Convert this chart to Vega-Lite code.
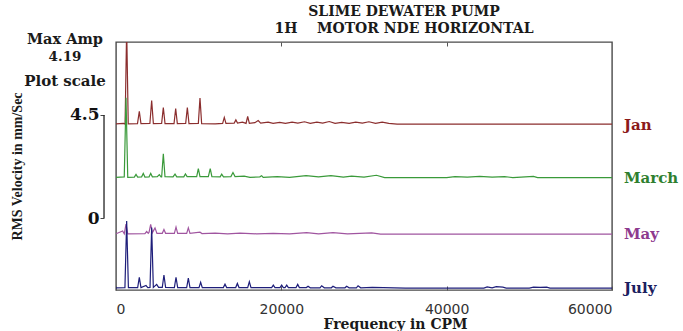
{
  "$schema": "https://vega.github.io/schema/vega-lite/v6.json",
  "width": 496,
  "height": 248,
  "autosize": {"type": "none"},
  "padding": {"left": 116, "top": 42, "right": 71, "bottom": 41},
  "background": "white",
  "config": {"view": {"stroke": "#4a4a4a", "strokeWidth": 1.4}},
  "title": {
    "text": "SLIME DEWATER PUMP",
    "subtitle": "1H\u00a0\u00a0\u00a0\u00a0MOTOR NDE HORIZONTAL",
    "font": "DejaVu Serif",
    "fontSize": 14,
    "fontWeight": "bold",
    "color": "#1a1a1a",
    "subtitleFont": "DejaVu Serif",
    "subtitleFontSize": 14,
    "subtitleFontWeight": "bold",
    "subtitleColor": "#1a1a1a",
    "subtitlePadding": 3,
    "anchor": "middle",
    "dx": 40,
    "offset": -4
  },
  "datasets": {
    "labels": [{"m": "Jan"}, {"m": "March"}, {"m": "May"}, {"m": "July"}],
    "spectra": [
      {"m":"Jan","f":0,"a":0.03},{"m":"Jan","f":900,"a":0.05},{"m":"Jan","f":1100,"a":0.02},{"m":"Jan","f":1290,"a":4.19},{"m":"Jan","f":1480,"a":0.03},
      {"m":"Jan","f":2600,"a":0.04},{"m":"Jan","f":2820,"a":0.57},{"m":"Jan","f":3020,"a":0.04},
      {"m":"Jan","f":4100,"a":0.05},{"m":"Jan","f":4315,"a":1.05},{"m":"Jan","f":4520,"a":0.04},
      {"m":"Jan","f":5520,"a":0.05},{"m":"Jan","f":5725,"a":0.74},{"m":"Jan","f":5930,"a":0.04},
      {"m":"Jan","f":7020,"a":0.04},{"m":"Jan","f":7220,"a":0.7},{"m":"Jan","f":7420,"a":0.04},
      {"m":"Jan","f":8430,"a":0.05},{"m":"Jan","f":8630,"a":0.74},{"m":"Jan","f":8830,"a":0.04},
      {"m":"Jan","f":9960,"a":0.05},{"m":"Jan","f":10160,"a":1.16},{"m":"Jan","f":10360,"a":0.04},
      {"m":"Jan","f":12000,"a":0.03},{"m":"Jan","f":12900,"a":0.05},{"m":"Jan","f":13100,"a":0.31},{"m":"Jan","f":13300,"a":0.05},
      {"m":"Jan","f":14300,"a":0.06},{"m":"Jan","f":14500,"a":0.2},{"m":"Jan","f":14700,"a":0.06},{"m":"Jan","f":15300,"a":0.1},
      {"m":"Jan","f":15730,"a":0.05},{"m":"Jan","f":15930,"a":0.35},{"m":"Jan","f":16130,"a":0.05},{"m":"Jan","f":16800,"a":0.08},
      {"m":"Jan","f":17200,"a":0.17},{"m":"Jan","f":17500,"a":0.06},{"m":"Jan","f":18400,"a":0.1},{"m":"Jan","f":19000,"a":0.05},
      {"m":"Jan","f":19800,"a":0.09},{"m":"Jan","f":20500,"a":0.05},{"m":"Jan","f":21300,"a":0.1},{"m":"Jan","f":22000,"a":0.06},
      {"m":"Jan","f":22800,"a":0.12},{"m":"Jan","f":23500,"a":0.05},{"m":"Jan","f":24300,"a":0.1},{"m":"Jan","f":25000,"a":0.06},
      {"m":"Jan","f":25800,"a":0.13},{"m":"Jan","f":26500,"a":0.05},{"m":"Jan","f":27300,"a":0.09},{"m":"Jan","f":28200,"a":0.05},
      {"m":"Jan","f":29000,"a":0.1},{"m":"Jan","f":29800,"a":0.06},{"m":"Jan","f":30600,"a":0.12},{"m":"Jan","f":31400,"a":0.05},
      {"m":"Jan","f":32200,"a":0.1},{"m":"Jan","f":33000,"a":0.05},{"m":"Jan","f":34000,"a":0.02},{"m":"Jan","f":40000,"a":0.02},
      {"m":"Jan","f":48000,"a":0.02},{"m":"Jan","f":60000,"a":0.02},

      {"m":"March","f":0,"a":0.03},{"m":"March","f":1000,"a":0.05},{"m":"March","f":1210,"a":3.5},{"m":"March","f":1420,"a":0.03},
      {"m":"March","f":2220,"a":0.04},{"m":"March","f":2420,"a":0.16},{"m":"March","f":2620,"a":0.04},
      {"m":"March","f":3100,"a":0.05},{"m":"March","f":3300,"a":0.2},{"m":"March","f":3500,"a":0.04},
      {"m":"March","f":4000,"a":0.05},{"m":"March","f":4200,"a":0.2},{"m":"March","f":4400,"a":0.05},
      {"m":"March","f":5000,"a":0.06},{"m":"March","f":5240,"a":0.15},{"m":"March","f":5450,"a":0.05},
      {"m":"March","f":5525,"a":0.05},{"m":"March","f":5725,"a":1.06},{"m":"March","f":5925,"a":0.06},
      {"m":"March","f":6900,"a":0.05},{"m":"March","f":7140,"a":0.17},{"m":"March","f":7350,"a":0.05},
      {"m":"March","f":8200,"a":0.05},{"m":"March","f":8400,"a":0.18},{"m":"March","f":8600,"a":0.06},
      {"m":"March","f":9760,"a":0.06},{"m":"March","f":9960,"a":0.41},{"m":"March","f":10160,"a":0.06},
      {"m":"March","f":11170,"a":0.06},{"m":"March","f":11400,"a":0.41},{"m":"March","f":11600,"a":0.06},
      {"m":"March","f":12600,"a":0.05},{"m":"March","f":12785,"a":0.17},{"m":"March","f":13000,"a":0.05},
      {"m":"March","f":13900,"a":0.06},{"m":"March","f":14150,"a":0.24},{"m":"March","f":14400,"a":0.06},
      {"m":"March","f":15500,"a":0.08},{"m":"March","f":16200,"a":0.03},{"m":"March","f":17400,"a":0.05},{"m":"March","f":17620,"a":0.1},
      {"m":"March","f":17800,"a":0.03},{"m":"March","f":19500,"a":0.06},{"m":"March","f":21000,"a":0.03},{"m":"March","f":23000,"a":0.1},
      {"m":"March","f":24500,"a":0.05},{"m":"March","f":26000,"a":0.1},{"m":"March","f":27500,"a":0.04},{"m":"March","f":28500,"a":0.08},
      {"m":"March","f":30000,"a":0.04},{"m":"March","f":31500,"a":0.12},{"m":"March","f":32500,"a":0.02},{"m":"March","f":40000,"a":0.02},
      {"m":"March","f":41000,"a":0.06},{"m":"March","f":42500,"a":0.04},{"m":"March","f":44000,"a":0.07},{"m":"March","f":45500,"a":0.04},
      {"m":"March","f":47000,"a":0.06},{"m":"March","f":48000,"a":0.02},{"m":"March","f":50500,"a":0.07},{"m":"March","f":51000,"a":0.02},
      {"m":"March","f":60000,"a":0.02},

      {"m":"May","f":0,"a":0.03},{"m":"May","f":800,"a":0.15},{"m":"May","f":1000,"a":0.03},{"m":"May","f":1210,"a":0.45},{"m":"May","f":1420,"a":0.03},
      {"m":"May","f":3500,"a":0.04},{"m":"May","f":3710,"a":0.13},{"m":"May","f":3900,"a":0.05},{"m":"May","f":4000,"a":0.1},
      {"m":"May","f":4195,"a":0.44},{"m":"May","f":4400,"a":0.08},{"m":"May","f":4720,"a":0.29},{"m":"May","f":4950,"a":0.05},
      {"m":"May","f":5600,"a":0.05},{"m":"May","f":5800,"a":0.22},{"m":"May","f":6000,"a":0.05},
      {"m":"May","f":7060,"a":0.05},{"m":"May","f":7260,"a":0.32},{"m":"May","f":7460,"a":0.05},
      {"m":"May","f":8550,"a":0.05},{"m":"May","f":8750,"a":0.29},{"m":"May","f":8950,"a":0.05},
      {"m":"May","f":10160,"a":0.1},{"m":"May","f":10400,"a":0.04},{"m":"May","f":12000,"a":0.06},{"m":"May","f":13500,"a":0.03},
      {"m":"May","f":15000,"a":0.06},{"m":"May","f":17000,"a":0.03},{"m":"May","f":19000,"a":0.05},{"m":"May","f":21000,"a":0.03},
      {"m":"May","f":23060,"a":0.08},{"m":"May","f":24500,"a":0.03},{"m":"May","f":26250,"a":0.08},{"m":"May","f":28000,"a":0.03},
      {"m":"May","f":30930,"a":0.07},{"m":"May","f":32000,"a":0.02},{"m":"May","f":60000,"a":0.02},

      {"m":"July","f":0,"a":0.03},{"m":"July","f":1080,"a":0.04},{"m":"July","f":1290,"a":2.95},{"m":"July","f":1500,"a":0.04},
      {"m":"July","f":2620,"a":0.04},{"m":"July","f":2820,"a":0.49},{"m":"July","f":3020,"a":0.04},
      {"m":"July","f":3630,"a":0.13},{"m":"July","f":3850,"a":0.04},{"m":"July","f":4115,"a":0.05},{"m":"July","f":4315,"a":2.66},{"m":"July","f":4515,"a":0.05},
      {"m":"July","f":4920,"a":0.18},{"m":"July","f":5150,"a":0.05},{"m":"July","f":5600,"a":0.05},{"m":"July","f":5800,"a":0.59},{"m":"July","f":6000,"a":0.05},
      {"m":"July","f":7060,"a":0.04},{"m":"July","f":7260,"a":0.49},{"m":"July","f":7460,"a":0.04},
      {"m":"July","f":8550,"a":0.04},{"m":"July","f":8750,"a":0.45},{"m":"July","f":8950,"a":0.04},
      {"m":"July","f":10040,"a":0.04},{"m":"July","f":10240,"a":0.27},{"m":"July","f":10440,"a":0.04},
      {"m":"July","f":12985,"a":0.04},{"m":"July","f":13185,"a":0.19},{"m":"July","f":13385,"a":0.04},
      {"m":"July","f":14480,"a":0.04},{"m":"July","f":14680,"a":0.22},{"m":"July","f":14880,"a":0.04},
      {"m":"July","f":15930,"a":0.04},{"m":"July","f":16130,"a":0.3},{"m":"July","f":16330,"a":0.04},
      {"m":"July","f":18830,"a":0.04},{"m":"July","f":19030,"a":0.15},{"m":"July","f":19230,"a":0.04},
      {"m":"July","f":19840,"a":0.04},{"m":"July","f":20040,"a":0.15},{"m":"July","f":20240,"a":0.04},
      {"m":"July","f":20450,"a":0.04},{"m":"July","f":20650,"a":0.15},{"m":"July","f":20850,"a":0.04},
      {"m":"July","f":21780,"a":0.04},{"m":"July","f":21980,"a":0.18},{"m":"July","f":22180,"a":0.04},
      {"m":"July","f":23030,"a":0.04},{"m":"July","f":23230,"a":0.1},{"m":"July","f":23500,"a":0.03},
      {"m":"July","f":24680,"a":0.03},{"m":"July","f":24880,"a":0.12},{"m":"July","f":25200,"a":0.03},
      {"m":"July","f":26050,"a":0.03},{"m":"July","f":26250,"a":0.1},{"m":"July","f":26600,"a":0.03},
      {"m":"July","f":27700,"a":0.03},{"m":"July","f":27900,"a":0.1},{"m":"July","f":28200,"a":0.03},
      {"m":"July","f":29080,"a":0.03},{"m":"July","f":29280,"a":0.12},{"m":"July","f":29600,"a":0.03},
      {"m":"July","f":31000,"a":0.05},{"m":"July","f":35000,"a":0.02},{"m":"July","f":44500,"a":0.02},{"m":"July","f":44900,"a":0.07},
      {"m":"July","f":45500,"a":0.03},{"m":"July","f":46000,"a":0.08},{"m":"July","f":46800,"a":0.06},{"m":"July","f":47200,"a":0.02},
      {"m":"July","f":50000,"a":0.02},{"m":"July","f":50500,"a":0.06},{"m":"July","f":51300,"a":0.05},{"m":"July","f":52100,"a":0.06},
      {"m":"July","f":52500,"a":0.02},{"m":"July","f":60000,"a":0.02}
    ]
  },
  "resolve": {"scale": {"y": "independent"}, "axis": {"x": "independent", "y": "independent"}},
  "layer": [
    {
      "data": {"name": "spectra"},
      "transform": [{"filter": "datum.m === 'Jan'"}],
      "mark": {"type": "line", "color": "#8b2e2e", "strokeWidth": 1.2, "clip": true},
      "encoding": {
        "x": {"field": "f", "type": "quantitative", "scale": {"domain": [0, 60000], "nice": false},
              "axis": {"orient": "top", "values": [20000, 40000], "labels": false, "tickSize": -4, "tickColor": "#555", "domain": false, "grid": false, "title": null}},
        "y": {"field": "a", "type": "quantitative", "scale": {"domain": [-7.227, 3.603], "nice": false, "zero": false}, "axis": null}
      }
    },
    {
      "data": {"name": "spectra"},
      "transform": [{"filter": "datum.m === 'March'"}],
      "mark": {"type": "line", "color": "#3a9a3a", "strokeWidth": 1.2, "clip": true},
      "encoding": {
        "x": {"field": "f", "type": "quantitative", "scale": {"domain": [0, 60000], "nice": false}, "axis": null},
        "y": {"field": "a", "type": "quantitative", "scale": {"domain": [-4.891, 5.939], "nice": false, "zero": false}, "axis": null}
      }
    },
    {
      "data": {"name": "spectra"},
      "transform": [{"filter": "datum.m === 'May'"}],
      "mark": {"type": "line", "color": "#a055a0", "strokeWidth": 1.2, "clip": true},
      "encoding": {
        "x": {"field": "f", "type": "quantitative", "scale": {"domain": [0, 60000], "nice": false}, "axis": null},
        "y": {"field": "a", "type": "quantitative", "scale": {"domain": [-2.424, 8.406], "nice": false, "zero": false}, "axis": null}
      }
    },
    {
      "data": {"name": "spectra"},
      "transform": [{"filter": "datum.m === 'July'"}],
      "mark": {"type": "line", "color": "#1e1e7a", "strokeWidth": 1.2, "clip": true},
      "encoding": {
        "x": {"field": "f", "type": "quantitative", "scale": {"domain": [0, 60000], "nice": false},
              "axis": {"orient": "bottom", "values": [0, 20000, 40000, 60000], "format": "d", "labelFont": "DejaVu Sans", "labelFontSize": 14, "labelColor": "#333",
                       "tickSize": -4, "tickColor": "#555", "labelPadding": 16, "domain": false, "grid": false,
                       "title": "Frequency in CPM", "titleFont": "DejaVu Serif", "titleFontSize": 14, "titleFontWeight": "bold", "titleColor": "#1a1a1a",
                       "titleX": 279, "titleY": 34, "titleBaseline": "middle"}},
        "y": {"field": "a", "type": "quantitative", "scale": {"domain": [-0.066, 10.764], "nice": false, "zero": false}, "axis": null}
      }
    },
    {
      "data": {"name": "labels"},
      "transform": [{"filter": "datum.m === 'Jan'"}],
      "mark": {"type": "text", "align": "left", "baseline": "middle", "font": "DejaVu Serif", "fontSize": 15, "fontWeight": "bold", "color": "#8b1a1a"},
      "encoding": {
        "x": {"datum": 61450, "type": "quantitative", "axis": null},
        "y": {"datum": 0, "type": "quantitative", "scale": {"domain": [-7.227, 3.603], "nice": false, "zero": false}, "axis": null},
        "text": {"field": "m"}
      }
    },
    {
      "data": {"name": "labels"},
      "transform": [{"filter": "datum.m === 'March'"}],
      "mark": {"type": "text", "align": "left", "baseline": "middle", "font": "DejaVu Serif", "fontSize": 15, "fontWeight": "bold", "color": "#2f7f2f"},
      "encoding": {
        "x": {"datum": 61450, "type": "quantitative", "axis": null},
        "y": {"datum": 0, "type": "quantitative", "scale": {"domain": [-4.891, 5.939], "nice": false, "zero": false}, "axis": null},
        "text": {"field": "m"}
      }
    },
    {
      "data": {"name": "labels"},
      "transform": [{"filter": "datum.m === 'May'"}],
      "mark": {"type": "text", "align": "left", "baseline": "middle", "font": "DejaVu Serif", "fontSize": 15, "fontWeight": "bold", "color": "#8e3a8e"},
      "encoding": {
        "x": {"datum": 61450, "type": "quantitative", "axis": null},
        "y": {"datum": 0, "type": "quantitative", "scale": {"domain": [-2.424, 8.406], "nice": false, "zero": false}, "axis": null},
        "text": {"field": "m"}
      }
    },
    {
      "data": {"name": "labels"},
      "transform": [{"filter": "datum.m === 'July'"}],
      "mark": {"type": "text", "align": "left", "baseline": "middle", "font": "DejaVu Serif", "fontSize": 15, "fontWeight": "bold", "color": "#1b2060"},
      "encoding": {
        "x": {"datum": 61450, "type": "quantitative", "axis": null},
        "y": {"datum": 0, "type": "quantitative", "scale": {"domain": [-0.066, 10.764], "nice": false, "zero": false}, "axis": null},
        "text": {"field": "m"}
      }
    },
    {
      "data": {"values": [{}]},
      "mark": {"type": "rule", "color": "#222", "strokeWidth": 1.3, "clip": false},
      "encoding": {
        "x": {"datum": -1450, "type": "quantitative", "axis": null},
        "y": {"datum": 0, "type": "quantitative", "scale": {"domain": [-3.144, 7.686], "nice": false, "zero": false},
              "axis": {"orient": "left", "values": [0, 4.5], "format": ".2~f", "offset": 12, "domain": false, "grid": false, "tickSize": 4, "tickColor": "#444",
                       "labelFont": "DejaVu Serif", "labelFontSize": 17, "labelFontWeight": "bold", "labelColor": "#111", "labelPadding": 1,
                       "title": "RMS Velocity in mm/Sec", "titleFont": "Liberation Serif", "titleFontSize": 14, "titleFontWeight": "bold", "titleColor": "#1a1a1a",
                       "titlePadding": 45}},
        "y2": {"datum": 4.5}
      }
    },
    {
      "data": {"values": [{}]},
      "mark": {"type": "text", "text": "Max Amp", "align": "center", "baseline": "middle", "font": "DejaVu Serif", "fontSize": 14.5, "fontWeight": "bold", "color": "#1a1a1a"},
      "encoding": {
        "x": {"datum": -6170, "type": "quantitative", "axis": null},
        "y": {"datum": 7.77, "type": "quantitative", "scale": {"domain": [-3.144, 7.686], "nice": false, "zero": false}, "axis": null}
      }
    },
    {
      "data": {"values": [{}]},
      "mark": {"type": "text", "text": "4.19", "align": "center", "baseline": "middle", "font": "DejaVu Serif", "fontSize": 13.5, "fontWeight": "bold", "color": "#1a1a1a"},
      "encoding": {
        "x": {"datum": -6170, "type": "quantitative", "axis": null},
        "y": {"datum": 7.03, "type": "quantitative", "scale": {"domain": [-3.144, 7.686], "nice": false, "zero": false}, "axis": null}
      }
    },
    {
      "data": {"values": [{}]},
      "mark": {"type": "text", "text": "Plot scale", "align": "center", "baseline": "middle", "font": "DejaVu Serif", "fontSize": 15, "fontWeight": "bold", "color": "#1a1a1a"},
      "encoding": {
        "x": {"datum": -6170, "type": "quantitative", "axis": null},
        "y": {"datum": 5.983, "type": "quantitative", "scale": {"domain": [-3.144, 7.686], "nice": false, "zero": false}, "axis": null}
      }
    }
  ]
}
